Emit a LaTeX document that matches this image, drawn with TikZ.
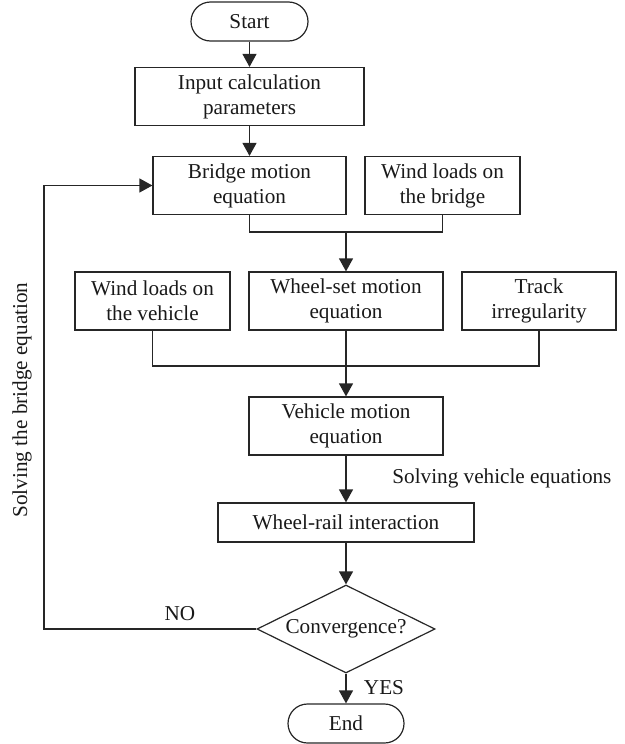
\documentclass[tikz,border=0pt]{standalone}
\usepackage{fontspec}
\setmainfont{Liberation Serif}
\usetikzlibrary{arrows.meta,shapes.geometric}

\begin{document}
\begin{tikzpicture}[x=0.5pt, y=-0.5pt,
  every node/.style={font=\fontsize{10.6pt}{12.5pt}\selectfont, text=black!90},
  box/.style={draw=black!85, line width=0.6pt, inner sep=0pt, align=center, minimum height=29pt},
  term/.style={box, rounded corners=9.75pt, minimum height=19.5pt},
  line/.style={draw=black!85, line width=0.6pt},
  arrow/.style={line, -{Triangle[length=6.5pt, width=7pt]}}]
\useasboundingbox (0,0) rectangle (625,744);

\node [term, minimum width=58.5pt] (start) at (249.5, 21.5) {Start};
\node [box, minimum width=114.5pt] (input) at (249.5, 96.5) {Input calculation\\parameters};
\node [box, minimum width=96.5pt] (bridge) at (249.5, 185.5) {Bridge motion\\equation};
\node [box, minimum width=77.5pt] (windb) at (442.5, 185.5) {Wind loads on\\the bridge};
\node [box, minimum width=77.5pt] (windv) at (152.5, 301) {Wind loads on\\the vehicle};
\node [box, minimum width=97pt] (wheelset) at (346, 301) {Wheel-set motion\\equation};
\node [box, minimum width=77pt] (track) at (539, 301) {Track\\irregularity};
\node [box, minimum width=97pt] (vehicle) at (346, 426) {Vehicle motion\\equation};
\node [box, minimum width=128pt, minimum height=19.5pt] (wheelrail) at (346, 522.5) {Wheel-rail interaction};
\node [box, diamond, aspect=2, minimum width=89pt, minimum height=44pt] (conv) at (346, 629) {Convergence?};
\node [term, minimum width=58pt] (end) at (346, 723.5) {End};

\node [anchor=west, inner sep=0pt] (solvev) at (392, 478) {Solving vehicle equations};
\node (no) at (180, 614) {NO};
\node (yes) at (384, 688) {YES};
\node [rotate=90] (solveb) at (22, 400) {Solving the bridge equation};

\coordinate (j1) at (346, 232);
\coordinate (j2) at (346, 366);
\coordinate (loop) at (44, 400);

\draw [arrow] (start) -- (input);
\draw [arrow] (input) -- (bridge);
\draw [line] (bridge.south) |- (j1) -| (windb.south);
\draw [arrow] (j1) -- (wheelset);
\draw [line] (windv.south) |- (j2) -| (track.south);
\draw [arrow] (wheelset) -- (vehicle);
\draw [arrow] (vehicle) -- (wheelrail);
\draw [arrow] (wheelrail) -- (conv);
\draw [arrow] (conv) -- (end);
\draw [arrow] (conv.west) -| (loop) |- (bridge.west);

\end{tikzpicture}
\end{document}
